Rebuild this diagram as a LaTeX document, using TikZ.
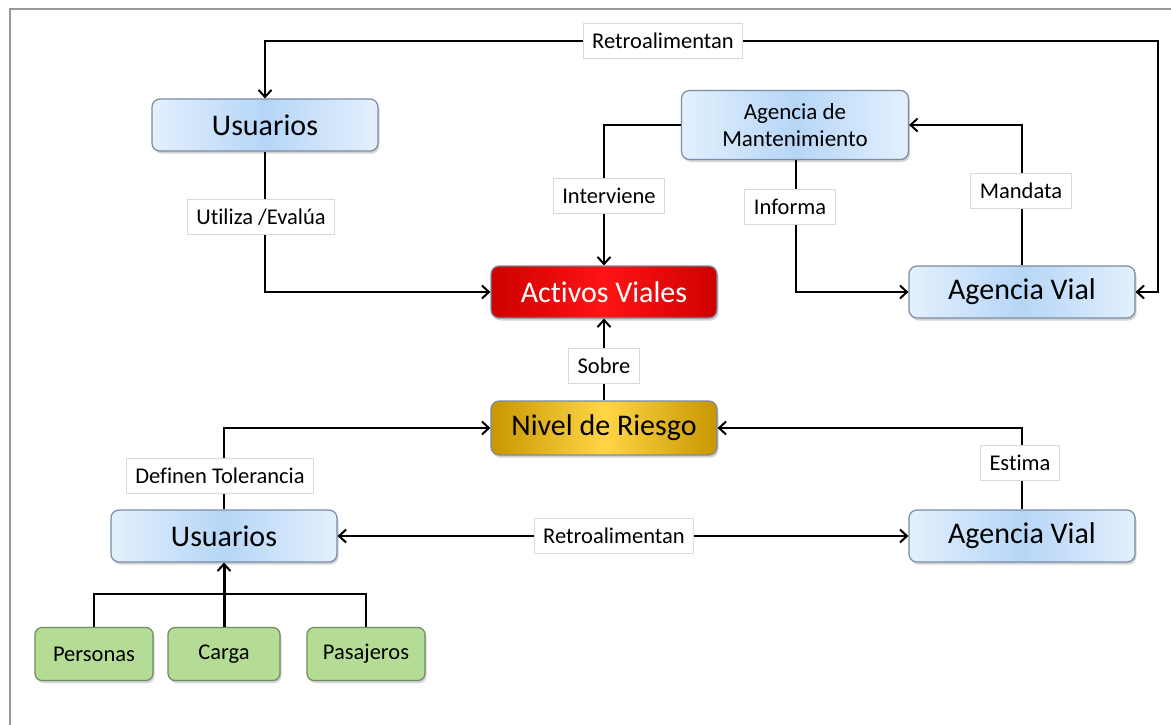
\documentclass[tikz,border=0pt]{standalone}
\usepackage{fontspec}
\setmainfont{Carlito}[Ligatures={NoCommon}]
\usetikzlibrary{arrows.meta,shadows}

\definecolor{boxblue}{RGB}{182,214,247}
\definecolor{boxbluelt}{RGB}{228,240,253}
\definecolor{boxedge}{RGB}{120,140,165}
\definecolor{riskred}{RGB}{255,20,20}
\definecolor{riskreddk}{RGB}{205,0,0}
\definecolor{riskgold}{RGB}{255,214,70}
\definecolor{riskgolddk}{RGB}{200,150,0}
\definecolor{boxgreen}{RGB}{181,220,149}
\definecolor{greenedge}{RGB}{110,140,95}

\tikzset{
  actor/.style={draw=boxedge, line width=1.2pt, rounded corners=8pt,
    left color=boxbluelt, right color=boxbluelt, middle color=boxblue,
    minimum width=226pt, minimum height=52pt, inner sep=2pt,
    drop shadow={shadow xshift=1.5pt, shadow yshift=-2.5pt, opacity=0.35},
    font=\fontsize{30}{34}\selectfont},
  asset/.style={actor, left color=riskreddk, right color=riskreddk,
    middle color=riskred, text=white},
  risk/.style={actor, left color=riskgolddk, right color=riskgolddk,
    middle color=riskgold},
  kind/.style={draw=greenedge, line width=1.2pt, rounded corners=7pt,
    fill=boxgreen, minimum height=53pt, inner sep=2pt,
    drop shadow={shadow xshift=1.5pt, shadow yshift=-2.5pt, opacity=0.35},
    font=\fontsize{22.5}{26}\selectfont},
  tag/.style={fill=white, draw=black!15, line width=0.8pt,
    minimum height=35pt, inner xsep=9pt, font=\fontsize{22.5}{26}\selectfont},
  link/.style={line width=2pt, -{Straight Barb[length=7pt,width=13pt,line width=2pt]}},
  twolink/.style={line width=2pt, {Straight Barb[length=7pt,width=13pt,line width=2pt]}-{Straight Barb[length=7pt,width=13pt,line width=2pt]}}
}

\begin{document}
\begin{tikzpicture}[x=1pt,y=-1pt]
	\useasboundingbox (0,0) rectangle (1171,725);
	\draw[draw=black!40, line width=1.5pt] (10,725) -- (10,9) -- (1171,9);

	% main boxes
	\node[actor] (usu1) at (265,125) {Usuarios};
	\node[actor, minimum width=227pt, minimum height=69pt, align=center,
	      font=\fontsize{23}{27}\selectfont] (agm) at (795,125) {Agencia de\\Mantenimiento};
	\node[asset] (act) at (604,292) {Activos Viales};
	\node[actor] (av1) at (1022,292) {Agencia Vial};
	\node[risk, minimum height=54pt] (niv) at (604,428) {Nivel de Riesgo};
	\node[actor] (usu2) at (224,536) {Usuarios};
	\node[actor] (av2) at (1022,536) {Agencia Vial};
	\node[kind, minimum width=118pt] (per) at (94,654) {Personas};
	\node[kind, minimum width=112pt] (car) at (224,654) {Carga};
	\node[kind, minimum width=118pt] (pas) at (366,654) {Pasajeros};

	% connectors
	\draw[twolink] (av1.east) -- ++(22,0) -- ++(0,-251) -| (usu1.north);
	\draw[link] (usu1.south) |- (act.west);
	\draw[link] (agm.west) -| (act.north);
	\draw[link] ([xshift=1pt]agm.south) |- (av1.west);
	\draw[link] (av1.north) |- (agm.east);
	\draw[link] (niv.north) -- (act.south);
	\draw[link] (usu2.north) |- (niv.west);
	\draw[link] (av2.north) |- (niv.east);
	\draw[twolink] (usu2.east) -- (av2.west);
	\draw[line width=2pt] (per.north) -- ++(0,-33) -| (pas.north);
	\draw[link, line width=3pt] (car.north) -- (usu2.south);

	% labels on the lines
	\node[tag] (t1) at (663,41) {Retroalimentan};
	\node[tag] (t2) at (261,217) {Utiliza /Evalúa};
	\node[tag] (t3) at (609,196) {Interviene};
	\node[tag] (t4) at (790,207) {Informa};
	\node[tag] (t5) at (1021,191) {Mandata};
	\node[tag] (t6) at (604,366) {Sobre};
	\node[tag] (t7) at (220,476) {Definen Tolerancia};
	\node[tag] (t8) at (614,536) {Retroalimentan};
	\node[tag] (t9) at (1020,463) {Estima};
\end{tikzpicture}
\end{document}
